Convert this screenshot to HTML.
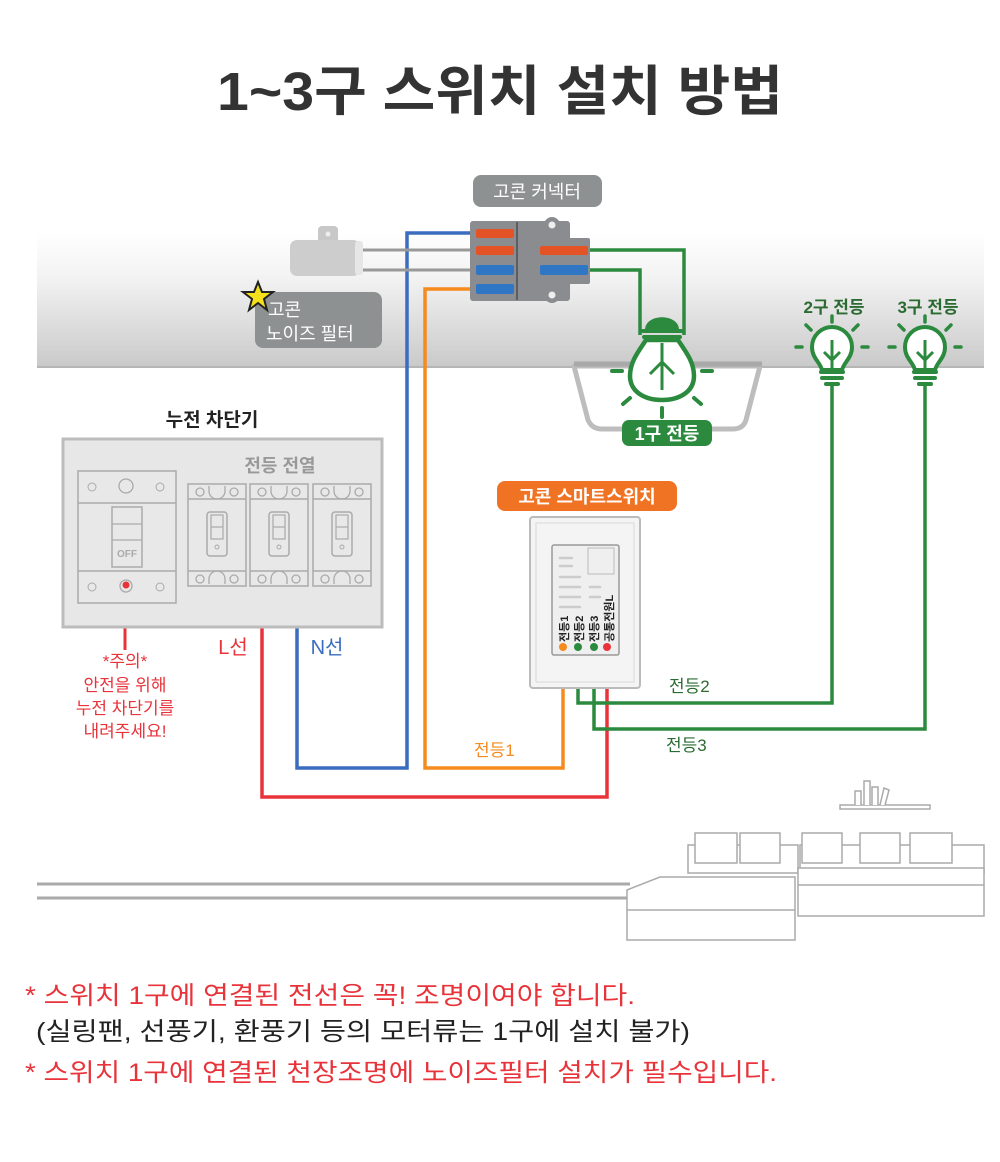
<!DOCTYPE html>
<html><head><meta charset="utf-8"><style>
html,body{margin:0;padding:0;background:#fff;}
svg{display:block;}
text{font-family:"Liberation Sans","Noto Sans CJK KR",sans-serif;}
</style></head><body>
<svg width="1000" height="1162" viewBox="0 0 1000 1162" xmlns="http://www.w3.org/2000/svg">
<defs>
<linearGradient id="ceil" x1="0" y1="0" x2="0" y2="1">
<stop offset="0" stop-color="#ffffff"/><stop offset="0.35" stop-color="#f2f2f2"/><stop offset="1" stop-color="#c9c9c9"/>
</linearGradient>
<g id="sb">
<rect x="0" y="0" width="58" height="102" fill="#e8e8e8" stroke="#aaa" stroke-width="1.5"/>
<line x1="0" y1="15" x2="58" y2="15" stroke="#aaa" stroke-width="1.5"/>
<line x1="0" y1="87" x2="58" y2="87" stroke="#aaa" stroke-width="1.5"/>
<circle cx="12" cy="8" r="4" fill="none" stroke="#aaa" stroke-width="1.3"/>
<circle cx="46" cy="8" r="4" fill="none" stroke="#aaa" stroke-width="1.3"/>
<path d="M21 2 v5 a8 8 0 0 0 16 0 v-5" fill="none" stroke="#aaa" stroke-width="1.3"/>
<circle cx="12" cy="95" r="4" fill="none" stroke="#aaa" stroke-width="1.3"/>
<circle cx="46" cy="95" r="4" fill="none" stroke="#aaa" stroke-width="1.3"/>
<path d="M21 100 v-5 a8 8 0 0 1 16 0 v5" fill="none" stroke="#aaa" stroke-width="1.3"/>
<rect x="19" y="28" width="20" height="44" rx="3" fill="#e8e8e8" stroke="#aaa" stroke-width="1.5"/>
<rect x="23" y="31" width="12" height="24" fill="none" stroke="#aaa" stroke-width="1.2"/>
<line x1="23" y1="43" x2="35" y2="43" stroke="#aaa" stroke-width="1.2"/>
<circle cx="29" cy="63" r="2" fill="none" stroke="#aaa"/>
</g>
<g id="bulbS">
<path d="M-10 20 C-12 12 -20 8 -20 -3 A20 20 0 0 1 20 -3 C20 8 12 12 10 20 Z" fill="#fff" stroke="#2b8a3e" stroke-width="4"/>
<path d="M-11 22 h22 M-10 28 h20 M-6 34 h12" stroke="#2b8a3e" stroke-width="4" stroke-linecap="round"/>
<path d="M0 -10 V18 M-8 2 L0 10 L8 2" fill="none" stroke="#2b8a3e" stroke-width="3"/>
<path d="M-30 -3 h-6 M30 -3 h6 M0 -28 v-6 M-21 -20 l-5 -5 M21 -20 l5 -5" stroke="#2b8a3e" stroke-width="3.5" stroke-linecap="round"/>
</g>
</defs>

<!-- title -->
<text x="500" y="110" text-anchor="middle" font-size="54" font-weight="bold" fill="#333" textLength="566" lengthAdjust="spacingAndGlyphs">1~3구 스위치 설치 방법</text>

<!-- ceiling -->
<rect x="37" y="232" width="947" height="136" fill="url(#ceil)"/>
<line x1="37" y1="367" x2="984" y2="367" stroke="#b5b5b5" stroke-width="2"/>

<!-- lamp fixture -->
<path d="M574 366 H760 L746 420 Q743 429 733 429 H602 Q592 429 588 420 Z" fill="#fff" stroke="#bdbdbd" stroke-width="5" stroke-linejoin="round"/>
<path d="M574 364 h188" stroke="#a9a9a9" stroke-width="5"/>

<!-- wires -->
<g fill="none" stroke-width="3.5">
<path d="M478 233 H407 V768 H297 V590" stroke="#3a6cbf"/>
<path d="M478 289 H425 V768 H563 V645" stroke="#f58a1f"/>
<path d="M262 590 V797 H607 V645" stroke="#e8333a"/>
<path d="M590 250 H684 V335" stroke="#2b8a3e"/>
<path d="M590 270 H640 V335" stroke="#2b8a3e"/>
<path d="M578 645 V703 H832 V385" stroke="#2b8a3e"/>
<path d="M594 645 V729 H925 V385" stroke="#2b8a3e"/>
<path d="M125 585 V650" stroke="#e8333a" stroke-width="3"/>
</g>
<path d="M360 250 H478 M360 270 H478" stroke="#999" stroke-width="3" fill="none"/>

<!-- noise filter cylinder -->
<path d="M318 240 v-10 a4 4 0 0 1 4 -4 h12 a4 4 0 0 1 4 4 v10 z" fill="#c8c8c8"/>
<circle cx="328" cy="234" r="2.5" fill="#eee"/>
<rect x="290" y="240" width="70" height="36" rx="7" fill="#cdcdcd"/>
<rect x="355" y="241" width="8" height="34" rx="3" fill="#e6e6e6"/>

<!-- connector -->
<rect x="470" y="221" width="100" height="80" rx="3" fill="#8a8c90"/>
<rect x="530" y="238" width="60" height="46" rx="2" fill="#8a8c90"/>
<circle cx="552" cy="225" r="8" fill="#8a8c90"/><circle cx="552" cy="225" r="3.5" fill="#eee"/>
<circle cx="552" cy="295" r="8" fill="#8a8c90"/><circle cx="552" cy="295" r="3.5" fill="#eee"/>
<line x1="517" y1="222" x2="517" y2="300" stroke="#5c5e62" stroke-width="2"/>
<rect x="476" y="229" width="38" height="9" rx="2" fill="#e45326"/>
<rect x="476" y="246" width="38" height="9" rx="2" fill="#e45326"/>
<rect x="476" y="265" width="38" height="10" rx="2" fill="#2f76c4"/>
<rect x="476" y="284" width="38" height="10" rx="2" fill="#2f76c4"/>
<rect x="540" y="246" width="48" height="9" rx="2" fill="#e45326"/>
<rect x="540" y="265" width="48" height="10" rx="2" fill="#2f76c4"/>

<!-- labels top -->
<rect x="473" y="175" width="129" height="32" rx="8" fill="#8d9191"/>
<text x="537" y="198" text-anchor="middle" font-size="18" fill="#fff">고콘 커넥터</text>
<rect x="255" y="292" width="127" height="56" rx="8" fill="#8d9191"/>
<text x="268" y="316" font-size="18" fill="#fff">고콘</text>
<text x="266" y="340" font-size="18" fill="#fff">노이즈 필터</text>
<polygon points="258,282 262,292 273,292 264,299 267,310 258,303 249,310 252,299 243,292 254,292" fill="#f5e11b" stroke="#222" stroke-width="2"/>

<!-- bulb 1 (hanging, base up) -->
<g>
<path d="M645 330 C645 313 679 313 679 330 Z" fill="#2b8a3e"/>
<path d="M643 331 h38 M644 337 h36" stroke="#2b8a3e" stroke-width="4" stroke-linecap="round"/>
<path d="M646 340 C638 352 630 362 630 376 C630 392 645 400 662 400 C679 400 694 392 694 376 C694 362 686 352 678 340 Z" fill="#fff" stroke="#2b8a3e" stroke-width="4.5"/>
<path d="M662 343 V390 M650 374 L662 362 L674 374" fill="none" stroke="#2b8a3e" stroke-width="3"/>
<path d="M612 371 h10 M702 371 h10 M630 398 l-7 6 M694 398 l7 6 M662 408 v9" stroke="#2b8a3e" stroke-width="4" stroke-linecap="round"/>
</g>
<rect x="622" y="420" width="90" height="26" rx="7" fill="#2b8a3e"/>
<text x="667" y="440" text-anchor="middle" font-size="18" font-weight="bold" fill="#fff">1구 전등</text>

<!-- bulbs 2,3 -->
<text x="834" y="313" text-anchor="middle" font-size="17" font-weight="bold" fill="#2b6b32">2구 전등</text>
<text x="928" y="313" text-anchor="middle" font-size="17" font-weight="bold" fill="#2b6b32">3구 전등</text>
<g transform="translate(832,350)"><use href="#bulbS"/></g>
<g transform="translate(925,350)"><use href="#bulbS"/></g>

<!-- breaker panel -->
<text x="212" y="426" text-anchor="middle" font-size="19" font-weight="bold" fill="#222">누전 차단기</text>
<rect x="63" y="439" width="319" height="188" fill="#e7e7e8" stroke="#bcbcbc" stroke-width="3"/>
<text x="280" y="472" text-anchor="middle" font-size="18" font-weight="bold" fill="#999">전등 전열</text>
<rect x="78" y="471" width="98" height="132" fill="#e8e8e8" stroke="#aaa" stroke-width="1.5"/>
<line x1="78" y1="503" x2="176" y2="503" stroke="#aaa" stroke-width="1.5"/>
<line x1="78" y1="571" x2="176" y2="571" stroke="#aaa" stroke-width="1.5"/>
<circle cx="92" cy="487" r="4" fill="none" stroke="#aaa"/><circle cx="160" cy="487" r="4" fill="none" stroke="#aaa"/>
<circle cx="126" cy="486" r="7" fill="none" stroke="#aaa" stroke-width="1.3"/>
<circle cx="92" cy="587" r="4" fill="none" stroke="#aaa"/><circle cx="160" cy="587" r="4" fill="none" stroke="#aaa"/>
<circle cx="126" cy="586" r="6" fill="none" stroke="#aaa" stroke-width="1.3"/>
<circle cx="126" cy="585" r="3.5" fill="#e8333a"/>
<rect x="112" y="507" width="30" height="60" fill="#e8e8e8" stroke="#aaa" stroke-width="1.5"/>
<line x1="112" y1="524" x2="142" y2="524" stroke="#aaa" stroke-width="1.3"/>
<line x1="112" y1="540" x2="142" y2="540" stroke="#aaa" stroke-width="1.3"/>
<text x="127" y="557" text-anchor="middle" font-size="10" font-weight="bold" fill="#aaa">OFF</text>
<use href="#sb" x="188" y="484"/>
<use href="#sb" x="250" y="484"/>
<use href="#sb" x="313" y="484"/>

<text x="233" y="654" text-anchor="middle" font-size="20" fill="#e8333a">L선</text>
<text x="327" y="654" text-anchor="middle" font-size="20" fill="#3a6cbf">N선</text>
<g font-size="17" fill="#e8333a" text-anchor="middle">
<text x="125" y="667">*주의*</text>
<text x="125" y="691">안전을 위해</text>
<text x="125" y="714">누전 차단기를</text>
<text x="125" y="737">내려주세요!</text>
</g>

<!-- smart switch -->
<rect x="497" y="481" width="180" height="30" rx="8" fill="#f07223"/>
<text x="587" y="503" text-anchor="middle" font-size="18" font-weight="bold" fill="#fff">고콘 스마트스위치</text>
<rect x="530" y="517" width="110" height="171" rx="3" fill="#f4f4f4" stroke="#bbb" stroke-width="2"/>
<rect x="536" y="523" width="98" height="159" fill="none" stroke="#ddd" stroke-width="1.2"/>
<rect x="552" y="545" width="67" height="110" rx="2" fill="#efefef" stroke="#999" stroke-width="1.5"/>
<rect x="588" y="548" width="26" height="26" fill="none" stroke="#bbb"/>
<g stroke="#ccc" stroke-width="2.5" stroke-linecap="round">
<path d="M560 558 h12 M560 566 h12 M560 577 h20 M560 587 h20 M560 597 h20 M560 607 h20 M590 587 h10 M590 597 h10"/>
</g>
<g font-size="11" font-weight="bold" fill="#222">
<text transform="translate(568,642) rotate(-90)">전등1</text>
<text transform="translate(583,642) rotate(-90)">전등2</text>
<text transform="translate(598,642) rotate(-90)">전등3</text>
<text transform="translate(613,642) rotate(-90)">공통전원L</text>
</g>
<circle cx="563" cy="647" r="4" fill="#f58a1f"/>
<circle cx="578" cy="647" r="4" fill="#2b8a3e"/>
<circle cx="594" cy="647" r="4" fill="#2b8a3e"/>
<circle cx="607" cy="647" r="4" fill="#e8333a"/>

<text x="669" y="692" font-size="17" fill="#2b6b32">전등2</text>
<text x="666" y="751" font-size="17" fill="#2b6b32">전등3</text>
<text x="474" y="756" font-size="17" fill="#f58a1f">전등1</text>

<!-- floor & sofa -->
<path d="M37 884 H630 M37 898 H630" stroke="#aaa" stroke-width="3"/>
<g fill="#fff" stroke="#aaa" stroke-width="1.5">
<rect x="840" y="805" width="90" height="4"/>
<path d="M855 805 v-14 h6 v14 M864 805 v-24 h6 v24 M872 805 v-18 h6 v18 M880 805 l4 -17 l5 2 l-4 15"/>
<rect x="688" y="845" width="110" height="28"/>
<rect x="800" y="845" width="184" height="28"/>
<path d="M695 833 h42 v30 h-42 z M740 833 h40 v30 h-40 z M802 833 h40 v30 h-40 z M860 833 h40 v30 h-40 z M910 833 h42 v30 h-42 z"/>
<path d="M627 890 L660 877 H795 V940 H627 Z"/>
<path d="M627 910 H795"/>
<rect x="798" y="868" width="186" height="48"/>
<path d="M798 885 H984"/>
</g>

<!-- notes -->
<text x="25" y="1004" font-size="25" fill="#e8333a" textLength="610" lengthAdjust="spacingAndGlyphs">* 스위치 1구에 연결된 전선은 꼭! 조명이여야 합니다.</text>
<text x="36" y="1040" font-size="25" fill="#222" textLength="654" lengthAdjust="spacingAndGlyphs">(실링팬, 선풍기, 환풍기 등의 모터류는 1구에 설치 불가)</text>
<text x="25" y="1081" font-size="25" fill="#e8333a" textLength="752" lengthAdjust="spacingAndGlyphs">* 스위치 1구에 연결된 천장조명에 노이즈필터 설치가 필수입니다.</text>
</svg>
</body></html>
